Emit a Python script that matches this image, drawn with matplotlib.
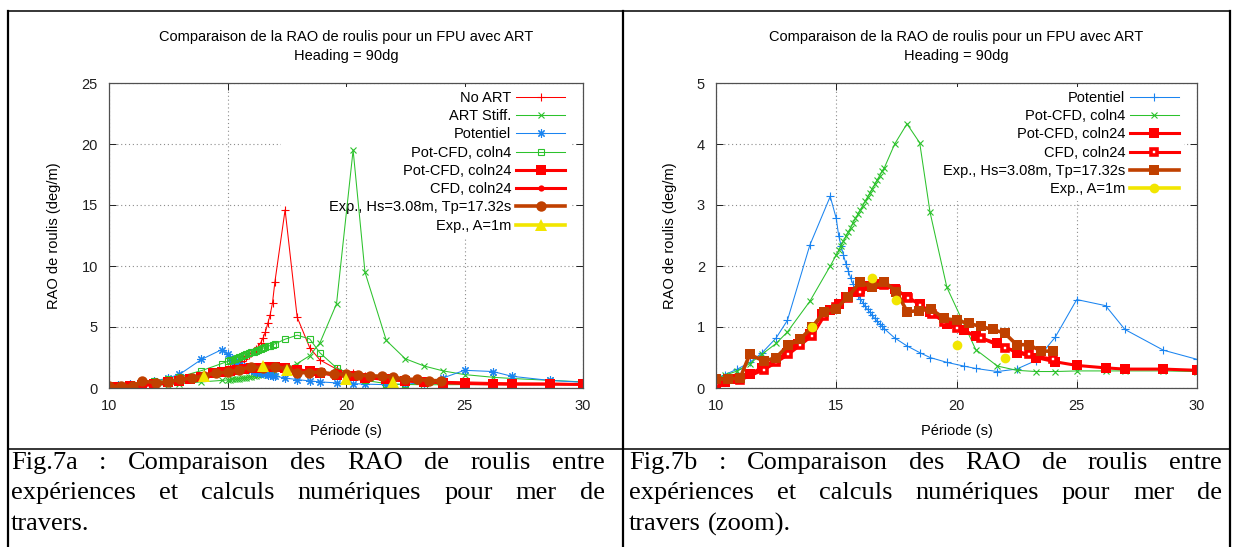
import matplotlib
matplotlib.use("Agg")
import matplotlib.pyplot as plt
from matplotlib.lines import Line2D
from matplotlib.patches import Rectangle
from matplotlib.transforms import IdentityTransform

# ---------------------------------------------------------------- data
# periods of the potential / coupled computations (s)
period_pot = [10.0, 10.375, 10.89, 11.4, 11.9, 12.5, 12.97, 13.9, 14.75,
              15.0, 15.1, 15.2, 15.3, 15.4, 15.5, 15.6, 15.7, 15.8, 15.9, 16.0,
              16.1, 16.2, 16.3, 16.4, 16.5, 16.6, 16.7, 16.8, 16.9, 17.0,
              17.43, 17.94, 18.47, 18.9, 19.6, 20.3, 20.8, 21.7, 22.5, 23.3,
              24.1, 25.0, 26.2, 27.0, 28.6, 30.0]

rao_no_art = [0.10, 0.14, 0.20, 0.28, 0.38, 0.50, 0.62, 0.95, 1.40,
              1.55, 1.65, 1.75, 1.85, 2.00, 2.15, 2.25, 2.40, 2.55, 2.70, 2.85,
              3.00, 3.20, 3.40, 3.70, 4.10, 4.60, 5.30, 6.00, 7.00, 8.70,
              14.6, 5.80, 3.30, 2.30, 1.55, 1.20, 1.00, 0.80, 0.70, 0.60,
              0.55, 0.50, 0.45, 0.42, 0.40, 0.35]

rao_art_stiff = [0.08, 0.10, 0.13, 0.17, 0.22, 0.28, 0.35, 0.50, 0.62,
                 0.66, 0.68, 0.70, 0.72, 0.74, 0.77, 0.80, 0.83, 0.86, 0.89, 0.92,
                 0.95, 0.99, 1.03, 1.07, 1.11, 1.15, 1.19, 1.23, 1.27, 1.31,
                 1.55, 2.00, 2.65, 3.70, 6.90, 19.5, 9.50, 3.90, 2.40, 1.80,
                 1.40, 1.10, 0.88, 0.78, 0.63, 0.50]

rao_potentiel = [0.14, 0.22, 0.31, 0.42, 0.57, 0.82, 1.11, 2.34, 3.14,
                 2.78, 2.50, 2.33, 2.18, 2.04, 1.92, 1.80, 1.70, 1.61, 1.53, 1.46,
                 1.40, 1.34, 1.29, 1.24, 1.19, 1.14, 1.10, 1.05, 1.01, 0.97,
                 0.82, 0.69, 0.58, 0.50, 0.42, 0.36, 0.32, 0.27, 0.31, 0.45,
                 0.83, 1.45, 1.35, 0.96, 0.62, 0.47]

period_coln4 = [10.0, 10.375, 10.89, 11.4, 11.9, 12.5, 12.97, 13.9, 14.75,
                15.0, 15.1, 15.2, 15.3, 15.4, 15.5, 15.6, 15.7, 15.8, 15.9, 16.0,
                16.1, 16.2, 16.3, 16.4, 16.5, 16.6, 16.7, 16.8, 16.9, 17.0,
                17.43, 17.94, 18.47, 18.9, 19.6, 20.8, 21.7, 22.5, 23.3,
                24.1, 25.0, 26.2, 27.0, 28.6, 30.0]
rao_pot_cfd_coln4 = [0.15, 0.21, 0.28, 0.40, 0.55, 0.73, 0.92, 1.42, 2.00,
                     2.18, 2.26, 2.33, 2.41, 2.49, 2.56, 2.63, 2.71, 2.78, 2.85, 2.92,
                     2.99, 3.06, 3.13, 3.20, 3.27, 3.34, 3.41, 3.48, 3.55, 3.61,
                     4.00, 4.33, 4.02, 2.88, 1.65, 0.63, 0.36, 0.29, 0.27,
                     0.27, 0.28, 0.28, 0.28, 0.28, 0.27]

period_coln24 = [10.0, 10.375, 10.89, 11.4, 11.9, 12.5, 12.97, 13.4, 13.9, 14.4,
                 14.75, 15.1, 15.4, 15.7, 16.0, 16.3, 16.7, 17.0, 17.43, 17.94,
                 18.47, 18.9, 19.6, 20.3, 20.8, 21.7, 22.5, 23.3, 24.1, 25.0,
                 26.2, 27.0, 28.6, 30.0]
rao_pot_cfd_coln24 = [0.08, 0.10, 0.14, 0.23, 0.33, 0.47, 0.58, 0.72, 0.88, 1.22,
                      1.28, 1.38, 1.50, 1.57, 1.63, 1.68, 1.70, 1.70, 1.62, 1.50,
                      1.37, 1.25, 1.05, 0.95, 0.85, 0.73, 0.58, 0.50, 0.43, 0.37,
                      0.33, 0.31, 0.31, 0.29]

period_cfd = [10.0, 11.0, 12.0, 12.5, 13.0, 13.5, 14.0, 14.5, 15.0, 15.5, 16.0,
              16.5, 17.0, 17.5, 18.0, 18.5, 19.0, 19.5, 20.0, 21.0, 22.0, 23.0, 24.0]
rao_cfd_coln24 = [0.06, 0.13, 0.30, 0.42, 0.55, 0.70, 0.86, 1.18, 1.33, 1.48, 1.58,
                  1.66, 1.69, 1.60, 1.48, 1.36, 1.22, 1.08, 0.98, 0.82, 0.66, 0.55, 0.47]

period_exp = [10.0, 10.5, 11.0, 11.4, 12.0, 12.5, 13.0, 13.5, 14.0, 14.5, 15.0,
              15.5, 16.0, 16.5, 17.0, 17.5, 17.95, 18.45, 18.95, 19.5, 20.0,
              20.5, 21.0, 21.5, 22.0, 22.5, 23.0, 23.5, 24.0]
rao_exp_hs = [0.14, 0.15, 0.16, 0.55, 0.44, 0.50, 0.70, 0.80, 1.00, 1.25, 1.30,
              1.50, 1.74, 1.65, 1.74, 1.58, 1.25, 1.27, 1.29, 1.14, 1.11,
              1.06, 1.01, 0.96, 0.90, 0.71, 0.71, 0.61, 0.60]

period_exp_a1 = [14.0, 16.5, 17.5, 20.0, 22.0]
rao_exp_a1 = [1.00, 1.80, 1.45, 0.70, 0.50]

x_ticks = [10, 15, 20, 25, 30]
y_ticks_full = [0, 5, 10, 15, 20, 25]
y_ticks_zoom = [0, 1, 2, 3, 4, 5]

title_lines = ["Comparaison de la RAO de roulis pour un FPU avec ART", "Heading = 90dg"]
x_label = "Période (s)"
y_label = "RAO de roulis (deg/m)"

caption_left = ["Fig.7a : Comparaison des RAO de roulis entre",
                "expériences et calculs numériques pour mer de",
                "travers."]
caption_right = ["Fig.7b : Comparaison des RAO de roulis entre",
                 "expériences et calculs numériques pour mer de",
                 "travers (zoom)."]

# ---------------------------------------------------------------- style
RED = "#ff0000"
GREEN = "#2cc22c"
BLUE = "#1a84f0"
BROWN = "#c04000"
YELLOW = "#f2e600"
STAR = (8, 2, 0)
THIN = 0.75
THICK = 2.2
FS = 10.5

W, H = 1233, 547
plt.rcParams["font.family"] = ["Liberation Sans", "DejaVu Sans"]
fig = plt.figure(figsize=(W / 100, H / 100), dpi=100)


def px_rect(x0, y0, x1, y1):
    return [x0 / W, 1 - y1 / H, (x1 - x0) / W, (y1 - y0) / H]


def style_axes(ax, yticks, ylab_x):
    ax.set_xlim(10, 30)
    ax.set_ylim(yticks[0], yticks[-1])
    ax.set_xticks(x_ticks)
    ax.set_yticks(yticks)
    ax.set_axisbelow(True)
    ax.grid(True, color="#8c8c8c", linestyle=(0, (1, 2.5)), linewidth=0.8)
    ax.tick_params(direction="in", top=True, right=True, length=5, width=0.7,
                   labelsize=FS, pad=8, colors="#202020")
    for s in ax.spines.values():
        s.set_linewidth(0.9)
        s.set_color("#505050")
    ax.set_xlabel(x_label, fontsize=FS, va="center")
    ax.xaxis.set_label_coords(0.5, -43 / 305)
    ax.set_ylabel(y_label, fontsize=FS, va="center")
    ax.yaxis.set_label_coords(ylab_x, 0.5)
    cx = (ax.get_position().x0 + ax.get_position().x1) / 2
    fig.text(cx, 1 - 37 / H, title_lines[0], ha="center", va="center", fontsize=FS)
    fig.text(cx, 1 - 56 / H, title_lines[1], ha="center", va="center", fontsize=FS)


def add_key(ax, handles, anchor_x):
    leg = ax.legend(handles=handles, loc="upper right",
                    bbox_to_anchor=(anchor_x, 0.988), borderaxespad=0,
                    markerfirst=False, fontsize=FS, handlelength=3.4,
                    handletextpad=0.3, labelspacing=0.29, borderpad=0.3,
                    numpoints=1, frameon=True, fancybox=False, framealpha=1,
                    facecolor="white", edgecolor="none")
    leg.set_zorder(1.5)
    return leg


# ---------------------------------------------------------------- Fig. 7a
ax1 = fig.add_axes(px_rect(109, 83, 583, 388))
h = []
h += ax1.plot(period_pot, rao_no_art, color=RED, lw=THIN, marker="+", ms=6,
              mew=0.8, label="No ART")
h += ax1.plot(period_pot, rao_art_stiff, color=GREEN, lw=THIN, marker="x", ms=4.5,
              mew=0.8, label="ART Stiff.")
h += ax1.plot(period_pot, rao_potentiel, color=BLUE, lw=THIN, marker=STAR, ms=6,
              mew=0.8, label="Potentiel")
h += ax1.plot(period_coln4, rao_pot_cfd_coln4, color=GREEN, lw=THIN, marker="s",
              ms=5, mew=0.8, mfc="none", label="Pot-CFD, coln4")
h += ax1.plot(period_coln24, rao_pot_cfd_coln24, color=RED, lw=THICK, marker="s",
              ms=6.5, mew=0, label="Pot-CFD, coln24")
h += ax1.plot(period_cfd, rao_cfd_coln24, color=RED, lw=THICK, marker="o",
              ms=4.5, mew=0, label="CFD, coln24")
h += ax1.plot(period_exp, rao_exp_hs, color=BROWN, lw=2.6, marker="o", ms=7.5,
              mew=0, label="Exp., Hs=3.08m, Tp=17.32s")
ax1.plot(period_exp_a1, rao_exp_a1, ls="none", color=YELLOW, marker="^", ms=8.5,
         mew=0)
h.append(Line2D([], [], color=YELLOW, lw=2.6, marker="^", ms=8.5, mew=0,
                label="Exp., A=1m"))
style_axes(ax1, y_ticks_full, -55 / 474)
leg1 = add_key(ax1, h, 0.972)

# ---------------------------------------------------------------- Fig. 7b
ax2 = fig.add_axes(px_rect(716, 83, 1197, 388))
h = []
h += ax2.plot(period_pot, rao_potentiel, color=BLUE, lw=THIN, marker="+", ms=6,
              mew=0.8, label="Potentiel")
h += ax2.plot(period_coln4, rao_pot_cfd_coln4, color=GREEN, lw=THIN, marker="x",
              ms=4.5, mew=0.8, label="Pot-CFD, coln4")
h += ax2.plot(period_coln24, rao_pot_cfd_coln24, color=RED, lw=THICK, marker="s",
              ms=6.5, mew=0, label="Pot-CFD, coln24")
h += ax2.plot(period_cfd, rao_cfd_coln24, color=RED, lw=THICK, marker="s", ms=5,
              mew=2.6, mfc="white", label="CFD, coln24")
h += ax2.plot(period_exp, rao_exp_hs, color=BROWN, lw=2.6, marker="s", ms=7.5,
              mew=0, label="Exp., Hs=3.08m, Tp=17.32s")
ax2.plot(period_exp_a1, rao_exp_a1, ls="none", color=YELLOW, marker="o", ms=7,
         mew=0)
h.append(Line2D([], [], color=YELLOW, lw=2.6, marker="o", ms=7, mew=0,
                label="Exp., A=1m"))
style_axes(ax2, y_ticks_zoom, -46 / 481)
leg2 = add_key(ax2, h, 0.972)

# ---------------------------------------------------------------- table rules
def rule(x0, y0, x1, y1, lw):
    fig.add_artist(Line2D([x0 / W, x1 / W], [1 - y0 / H, 1 - y1 / H],
                          transform=fig.transFigure, color="black", lw=lw))


rule(8, 11, 1230, 11, 1.1)
rule(8, 449, 1230, 449, 1.1)
rule(8, 11, 8, H, 1.6)
rule(623, 11, 623, H, 1.6)
rule(1230, 11, 1230, H, 1.6)

renderer = fig.canvas.get_renderer()

# the key background reaches a little further left than its text block
for ax, leg, extra in ((ax1, leg1, 44), (ax2, leg2, 52)):
    bb = leg.get_window_extent(renderer)
    ax.add_patch(Rectangle((bb.x0 - extra, bb.y0), bb.width + extra, bb.height,
                           transform=IdentityTransform(), facecolor="white",
                           edgecolor="none", zorder=1.4))

# ---------------------------------------------------------------- captions
CAP_FS = 19
line_y = [463, 493, 524]


def caption(lines, x0, x1):
    for i, line in enumerate(lines):
        y = H - line_y[i]
        words = line.split(" ")
        texts = [fig.text(0, y, w, transform=IdentityTransform(), fontsize=CAP_FS,
                          family=["Liberation Serif", "DejaVu Serif"],
                          va="center", ha="left") for w in words]
        widths = [t.get_window_extent(renderer).width for t in texts]
        last = i == len(lines) - 1
        gap = (x1 - x0 - sum(widths)) / max(len(words) - 1, 1)
        if last:
            gap = CAP_FS * 0.25 * 100 / 72
        x = x0
        for t, w in zip(texts, widths):
            t.set_x(x)
            x += w + gap


caption(caption_left, 11, 605)
caption(caption_right, 629, 1222)

fig.savefig("out.png", dpi=100)
